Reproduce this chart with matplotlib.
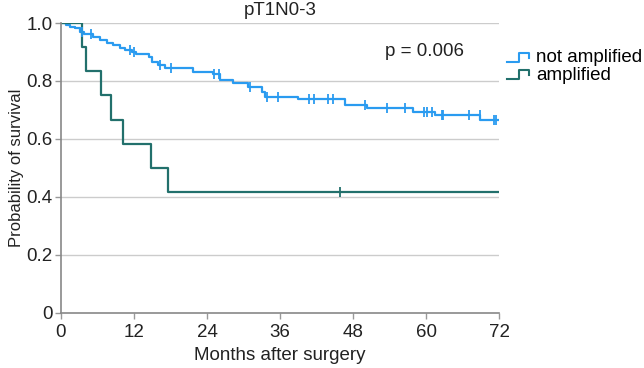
import numpy as np
import matplotlib
matplotlib.use('Agg')
import matplotlib.pyplot as plt
from matplotlib.legend_handler import HandlerBase
from matplotlib.lines import Line2D

plt.rcParams['font.family'] = ['Liberation Sans', 'DejaVu Sans']

# not amplified: step times (months) and survival after each step
na_times = [0, 0.9, 1.5, 2.3, 3.1, 3.7, 5.3, 6.4, 7.5, 8.6, 9.7, 10.5, 11.6, 12.4,
            14.4, 14.9, 16.0, 17.1, 21.7, 25.0, 26.1, 28.3, 30.8, 33.0, 33.5,
            39.0, 46.7, 50.3, 57.9, 61.5, 68.9]
na_surv = [1.0, 0.993, 0.987, 0.982, 0.968, 0.961, 0.953, 0.941, 0.932, 0.924, 0.915,
           0.907, 0.899, 0.893, 0.884, 0.867, 0.855, 0.844, 0.832, 0.824, 0.803,
           0.792, 0.778, 0.763, 0.746, 0.737, 0.717, 0.706, 0.694, 0.683, 0.666]
na_censor = [3.4, 5.0, 11.3, 12.0, 16.3, 18.0, 25.2, 26.0, 31.0, 33.8, 35.7,
             40.7, 41.5, 43.9, 44.7, 50.0, 53.5, 56.5, 59.6, 60.1, 61.0,
             62.6, 62.8, 67.0, 68.8, 71.1, 71.5]

# amplified (n = 12)
am_times = [0, 3.4, 4.1, 6.6, 8.2, 10.2, 14.8, 17.5]
am_surv = [1.0, 0.917, 0.833, 0.75, 0.667, 0.583, 0.5, 0.417]
am_censor = [45.8]

c_na = '#2a9bf0'
c_am = '#22706c'
fs = 13.5


def surv_at(times, surv, t):
    idx = np.searchsorted(times, t, side='right') - 1
    return np.array(surv)[idx]


class StepHandler(HandlerBase):
    # little step-shaped line for the legend
    def create_artists(self, legend, orig_handle, xdescent, ydescent,
                       width, height, fontsize, trans):
        x0, x1 = -xdescent, -xdescent + width
        xm = x0 + width * 0.55
        ylo, yhi = -ydescent + height * 0.05, -ydescent + height * 0.75
        ln = Line2D([x0, xm, xm, x1, x1], [ylo, ylo, yhi, yhi, height * 0.35],
                    color=orig_handle.get_color(), lw=1.5, transform=trans)
        return [ln]


fig = plt.figure(figsize=(6.44, 3.68), dpi=100)
ax = fig.add_axes([0.0947, 0.1495, 0.6805, 0.788])

for y in [0.2, 0.4, 0.6, 0.8, 1.0]:
    ax.axhline(y, color='#cccccc', lw=1, zorder=0)

h1, = ax.step(na_times + [72], na_surv + [na_surv[-1]], where='post',
              color=c_na, lw=1.6, label='not amplified')
h2, = ax.step(am_times + [72], am_surv + [am_surv[-1]], where='post',
              color=c_am, lw=1.6, label='amplified')
ax.plot(na_censor, surv_at(na_times, na_surv, na_censor), ls='none', marker='|',
        ms=7, mew=1.3, color=c_na)
ax.plot(am_censor, surv_at(am_times, am_surv, am_censor), ls='none', marker='|',
        ms=7, mew=1.3, color=c_am)

ax.set_xlim(0, 72)
ax.set_ylim(0, 1.0)
ax.set_xticks([0, 12, 24, 36, 48, 60, 72])
ax.set_yticks([0, 0.2, 0.4, 0.6, 0.8, 1.0])
ax.set_yticklabels(['0', '0.2', '0.4', '0.6', '0.8', '1.0'])
ax.tick_params(labelsize=fs, colors='#999999', labelcolor='#222222',
               length=4, width=1)
ax.tick_params(axis='x', pad=4)
ax.tick_params(axis='y', pad=2)
for s in ['top', 'right']:
    ax.spines[s].set_visible(False)
for s in ['left', 'bottom']:
    ax.spines[s].set_color('#888888')
    ax.spines[s].set_linewidth(1.2)
ax.set_xlabel('Months after surgery', fontsize=fs, labelpad=4, color='#222222')
ax.set_ylabel('Probability of survival', fontsize=12, labelpad=2, color='#222222')
ax.set_title('pT1N0-3', fontsize=fs, pad=6, color='#222222')
ax.text(53.3, 0.9, 'p = 0.006', fontsize=fs, va='center', color='#222222')

ax.legend(handles=[h1, h2], loc='upper left', bbox_to_anchor=(1.0, 0.935),
          frameon=False, fontsize=fs, handler_map={Line2D: StepHandler()},
          handlelength=1.2, handletextpad=0.35, labelspacing=0.0, borderaxespad=0)

fig.savefig('out.png', dpi=100)
